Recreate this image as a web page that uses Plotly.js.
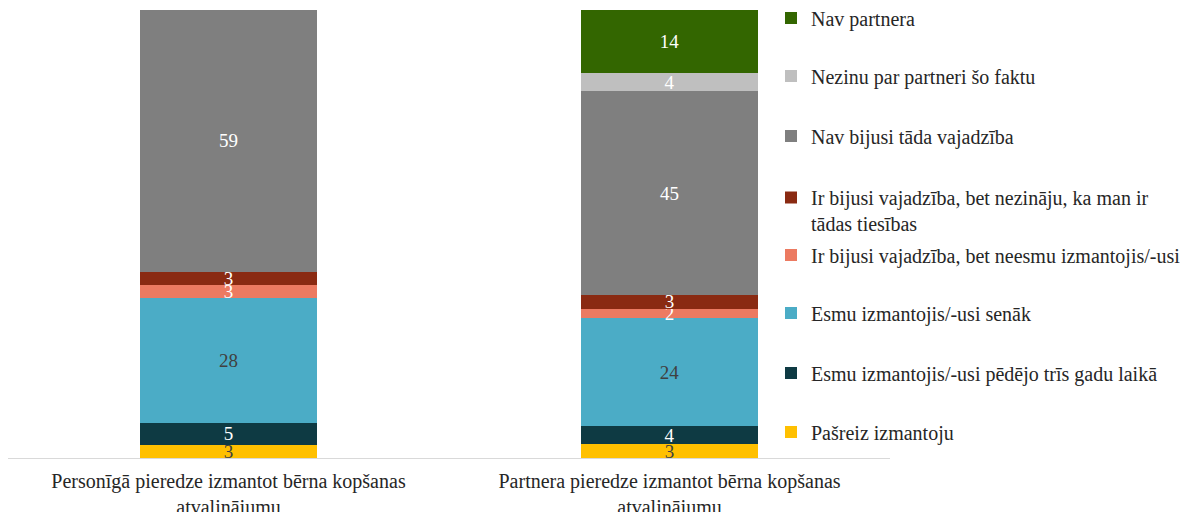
<!DOCTYPE html>
<html>
<head>
<meta charset="utf-8">
<script src="https://cdn.plot.ly/plotly-3.0.1.min.js"></script>
<style>html,body{margin:0;padding:0;background:#fff;}#chart{width:1191px;height:512px;}</style>
</head>
<body>
<div id="chart"></div>
<script>
const categories = [
  "Personīgā pieredze izmantot bērna kopšanas<br>atvalinājumu",
  "Partnera pieredze izmantot bērna kopšanas<br>atvalinājumu"
];
const seriesNames = [
  "Pašreiz izmantoju",
  "Esmu izmantojis/-usi pēdējo trīs gadu laikā",
  "Esmu izmantojis/-usi senāk",
  "Ir bijusi vajadzība, bet neesmu izmantojis/-usi",
  "Ir bijusi vajadzība, bet nezināju, ka man ir<br>tādas tiesības",
  "Nav bijusi tāda vajadzība",
  "Nezinu par partneri šo faktu",
  "Nav partnera"
];
const pasreiz = [3, 3];
const pedejo = [5, 4];
const senak = [28, 24];
const neesmu = [3, 2];
const nezinaju = [3, 3];
const navVajadziba = [59, 45];
const nezinuPartneri = [null, 4];
const navPartnera = [null, 14];
const seriesValues = [pasreiz, pedejo, senak, neesmu, nezinaju, navVajadziba, nezinuPartneri, navPartnera];

const colors = ["#FFC000", "#0E3A43", "#4BACC6", "#EC7A61", "#8A2A12", "#7F7F7F", "#BFBFBF", "#336600"];
const labelColors = ["#404040", "#ffffff", "#404040", "#ffffff", "#ffffff", "#ffffff", "#ffffff", "#ffffff"];
// legend item centre positions in pixels (top of page)
const legendPx = [432, 373, 313, 255, 197, 136, 76, 18];

const FONT = "Liberation Serif, Times New Roman, serif";
const plotTop = 10, plotBottom = 458, plotH = plotBottom - plotTop;

const traces = seriesNames.map((name, i) => ({
  type: "bar",
  name: name,
  x: categories,
  y: seriesValues[i],
  text: seriesValues[i].map(v => v === null ? "" : String(v)),
  textposition: "inside",
  insidetextanchor: "middle",
  constraintext: "none",
  textangle: 0,
  textfont: {family: FONT, size: 19, color: labelColors[i]},
  marker: {color: colors[i], line: {width: 0}},
  hoverinfo: "skip",
  legend: i === 0 ? "legend" : "legend" + (i + 1)
}));

const layout = {
  width: 1191, height: 512,
  margin: {l: 8, r: 301, t: plotTop, b: 512 - plotBottom, autoexpand: false},
  paper_bgcolor: "#ffffff", plot_bgcolor: "#ffffff",
  barmode: "stack", barnorm: "percent", bargap: 0.6,
  font: {family: FONT, size: 20, color: "#262626"},
  xaxis: {
    showline: true, linecolor: "#D9D9D9", linewidth: 1,
    showgrid: false, zeroline: false, ticks: "",
    tickfont: {family: FONT, size: 20, color: "#262626"},
    ticklabelstandoff: 5,
    range: [-0.5, 1.5], fixedrange: true, automargin: false
  },
  yaxis: {visible: false, range: [0, 100], showgrid: false, zeroline: false, fixedrange: true},
  showlegend: true
};
seriesNames.forEach((n, i) => {
  const key = i === 0 ? "legend" : "legend" + (i + 1);
  const multi = n.indexOf("<br>") >= 0;
  layout[key] = {
    x: (771 - 8) / 882, xanchor: "left",
    y: (plotBottom - (legendPx[i] - (multi ? 19 : 0))) / plotH,
    yanchor: multi ? "top" : "middle",
    valign: "top",
    bgcolor: "rgba(0,0,0,0)",
    font: {family: FONT, size: 20, color: "#262626"},
    itemwidth: 30,
    traceorder: "normal"
  };
});

Plotly.newPlot("chart", traces, layout, {displayModeBar: false, staticPlot: true});
</script>
</body>
</html>
